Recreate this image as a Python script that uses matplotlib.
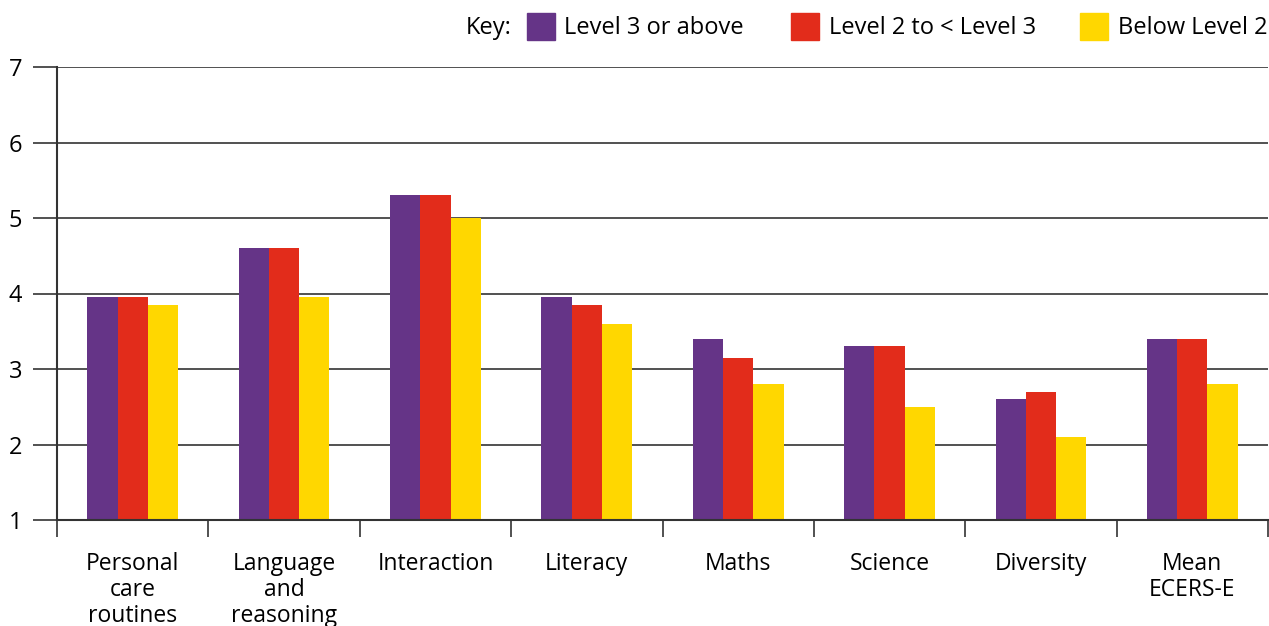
import matplotlib
matplotlib.use("Agg")
import matplotlib.pyplot as plt
from matplotlib.patches import Rectangle
import numpy as np

categories = ["Personal\ncare\nroutines", "Language\nand\nreasoning", "Interaction", "Literacy",
              "Maths", "Science", "Diversity", "Mean\nECERS-E"]
level3_above = [3.95, 4.6, 5.3, 3.95, 3.4, 3.3, 2.6, 3.4]
level2_to_3 = [3.95, 4.6, 5.3, 3.85, 3.15, 3.3, 2.7, 3.4]
below_level2 = [3.85, 3.95, 5.0, 3.6, 2.8, 2.5, 2.1, 2.8]
series_names = ["Level 3 or above", "Level 2 to < Level 3", "Below Level 2"]
colors = ["#653487", "#E22C1B", "#FFD700"]
yticks = [1, 2, 3, 4, 5, 6, 7]

plt.rcParams['font.family'] = ['Open Sans', 'DejaVu Sans']

W, H = 1269, 626
fig = plt.figure(figsize=(W / 100, H / 100), dpi=100)
ax = fig.add_axes([57 / W, 1 - 520 / H, (1268 - 57) / W, (520 - 67) / H])

x = np.arange(len(categories)) + 0.5
bw = 0.2
for k, vals in enumerate([level3_above, level2_to_3, below_level2]):
    ax.bar(x + (k - 1) * bw, np.array(vals) - 1, bottom=1, width=bw,
           color=colors[k], zorder=3, linewidth=0)

ax.set_xlim(0, len(categories))
ax.set_ylim(1, 7)
ax.set_yticks(yticks)
ax.set_yticklabels([str(t) for t in yticks], fontsize=17)
for t in yticks[1:]:
    ax.axhline(t, color="#333333", lw=1.2, zorder=1)

ax.set_xticks(x)
ax.set_xticklabels(categories, fontsize=16.5, linespacing=1.12, va="top")
ax.tick_params(axis="x", length=0, pad=23)
ax.set_xticks(np.arange(len(categories) + 1), minor=True)
ax.tick_params(axis="x", which="minor", length=12, width=1.2, color="#333333")
ax.tick_params(axis="y", length=17, width=1.2, color="#333333", pad=8)

for s in ["top", "right"]:
    ax.spines[s].set_visible(False)
ax.spines["left"].set_linewidth(1.5)
ax.spines["left"].set_color("#333333")
ax.spines["bottom"].set_linewidth(1.5)
ax.spines["bottom"].set_color("#333333")
ax.spines["bottom"].set_zorder(4)

# Key
fy = 1 - 28 / H
fig.text(466 / W, fy, "Key:", fontsize=17, va="center", ha="left")
sq_x = [527, 791, 1080]
tx_x = [564, 829, 1118]
for k in range(3):
    fig.patches.append(Rectangle((sq_x[k] / W, 1 - 40 / H), 28 / W, 27 / H,
                                 transform=fig.transFigure, color=colors[k]))
    fig.text(tx_x[k] / W, fy, series_names[k], fontsize=17, va="center", ha="left")

fig.savefig("out.png", dpi=100)
